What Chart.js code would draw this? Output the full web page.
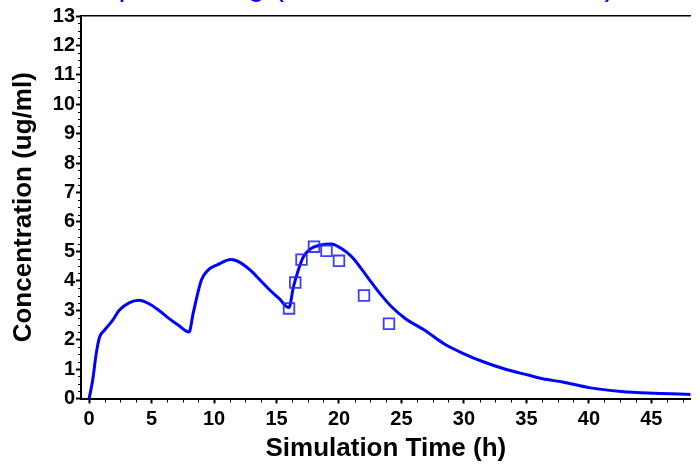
<!DOCTYPE html>
<html lang="en">
<head>
  <meta charset="UTF-8" />
  <title>Simulated vs observed concentration</title>
  <script src="https://cdn.jsdelivr.net/npm/chart.js"></script>
  <style>
    body { margin: 0; background: #fff; }
    #wrap { width: 700px; height: 464px; }
  </style>
</head>
<body>
  <div id="wrap"><canvas id="pkChart"></canvas></div>

  <script>
    // title is cut off at the top of the picture, only descenders show
    const titleText = 'Multiple Dosing (Observed vs Simulated)';
    const xTitle = 'Simulation Time (h)';
    const yTitle = 'Concentration (ug/ml)';

    // simulated curve
    const simTime = [0, 0.28, 0.57, 0.84, 1.23, 1.89, 2.41, 3.2, 3.99, 4.8, 5.57, 6.3, 7.15, 8.0,
      8.33, 8.98, 9.51, 10.3, 11.35, 12.1, 12.9, 13.7, 14.48, 15.2, 16.0,
      16.35, 16.74, 17.14, 17.66, 18.45, 19.37, 20.29, 21.08, 21.87, 22.66, 23.45, 24.23,
      25.3, 26.86, 28.4, 30.0, 31.6, 33.2, 35.3, 36.3, 37.9, 40.0, 42.6, 45.3, 48.15];
    const simConc = [0, 0.61, 1.53, 2.09, 2.32, 2.66, 3.0, 3.25, 3.34, 3.22, 3.0, 2.75, 2.49, 2.26,
      2.9, 4.02, 4.36, 4.55, 4.72, 4.62, 4.36, 4.02, 3.68, 3.40, 3.09,
      3.79, 4.36, 4.81, 5.07, 5.21, 5.25, 5.07, 4.79, 4.36, 3.91, 3.48, 3.11,
      2.72, 2.32, 1.86, 1.52, 1.24, 1.01, 0.78, 0.67, 0.56, 0.37, 0.24, 0.18, 0.14];

    // observed points
    const obsTime = [16, 16.5, 17, 18, 19, 20, 22, 24];
    const obsConc = [3.06, 3.94, 4.72, 5.16, 5.02, 4.68, 3.50, 2.54];

    const xTicks = [0, 5, 10, 15, 20, 25, 30, 35, 40, 45];
    const yTicks = [0, 1, 2, 3, 4, 5, 6, 7, 8, 9, 10, 11, 12, 13];
    const xMin = -0.65, xMax = 48.15;

    const font = "'Liberation Sans', Arial, sans-serif";

    const extras = {
      id: 'extras',
      afterDraw(chart) {
        const { ctx, scales: { x, y } } = chart;
        ctx.save();
        // minor ticks
        ctx.strokeStyle = '#000';
        ctx.lineWidth = 1;
        ctx.beginPath();
        for (let v = 0; v <= xMax; v += 1.25) {
          if (v % 5 === 0) continue;
          const px = Math.round(x.getPixelForValue(v)) + 0.5;
          ctx.moveTo(px, y.bottom);
          ctx.lineTo(px, y.bottom + 4);
        }
        for (let v = 0; v <= 13; v += 0.25) {
          if (v % 1 === 0) continue;
          const py = Math.round(y.getPixelForValue(v)) + 0.5;
          ctx.moveTo(x.left, py);
          ctx.lineTo(x.left - 3, py);
        }
        ctx.stroke();
        // title, mostly above the top edge
        ctx.fillStyle = '#0000ff';
        ctx.font = '31px ' + font;
        ctx.textAlign = 'center';
        ctx.textBaseline = 'alphabetic';
        ctx.fillText(titleText, 334, -5);
        ctx.restore();
      }
    };

    new Chart(document.getElementById('pkChart'), {
      type: 'scatter',
      data: {
        datasets: [
          {
            label: 'Observed',
            data: obsTime.map((t, i) => ({ x: t, y: obsConc[i] })),
            pointStyle: 'rect',
            pointRadius: 7.5,
            pointBorderWidth: 1.8,
            pointBorderColor: 'rgba(40, 40, 255, 0.9)',
            pointBackgroundColor: 'rgba(0, 0, 0, 0)',
            showLine: false
          },
          {
            label: 'Simulated',
            data: simTime.map((t, i) => ({ x: t, y: simConc[i] })),
            showLine: true,
            borderColor: '#0000ff',
            borderWidth: 3,
            pointRadius: 0,
            cubicInterpolationMode: 'monotone',
            fill: false
          }
        ]
      },
      options: {
        responsive: true,
        maintainAspectRatio: false,
        animation: false,
        layout: { padding: 0 },
        plugins: {
          legend: { display: false },
          tooltip: { enabled: false }
        },
        scales: {
          x: {
            type: 'linear',
            position: 'bottom',
            min: xMin,
            max: xMax,
            afterBuildTicks: s => { s.ticks = xTicks.map(v => ({ value: v })); },
            afterFit: s => { s.height = 65.5; },
            grid: { drawOnChartArea: false, tickLength: 5, tickWidth: 2, tickColor: '#000' },
            border: { color: '#000', width: 2 },
            ticks: { color: '#000', padding: 4, maxRotation: 0, font: { family: font, size: 20, weight: 'bold' } },
            title: {
              display: true,
              text: xTitle,
              color: '#000',
              padding: { top: 0, bottom: 0 },
              font: { family: font, size: 26, weight: 'bold', lineHeight: 1.2 }
            }
          },
          x2: {
            type: 'linear',
            position: 'top',
            min: xMin,
            max: xMax,
            afterFit: s => { s.height = 16; },
            grid: { drawOnChartArea: false, drawTicks: false },
            border: { color: '#000', width: 1.5 },
            ticks: { display: false }
          },
          y: {
            type: 'linear',
            position: 'left',
            min: 0,
            max: 13,
            afterBuildTicks: s => { s.ticks = yTicks.map(v => ({ value: v })); },
            afterFit: s => { s.width = 81; },
            grid: { drawOnChartArea: false, tickLength: 5, tickWidth: 2, tickColor: '#000' },
            border: { color: '#000', width: 2 },
            ticks: { color: '#000', padding: 1, font: { family: font, size: 20, weight: 'bold' } },
            title: {
              display: true,
              text: yTitle,
              color: '#000',
              padding: { top: 8.4, bottom: 0 },
              font: { family: font, size: 26, weight: 'bold', lineHeight: 1.2 }
            }
          }
        }
      },
      plugins: [extras]
    });
  </script>
</body>
</html>
